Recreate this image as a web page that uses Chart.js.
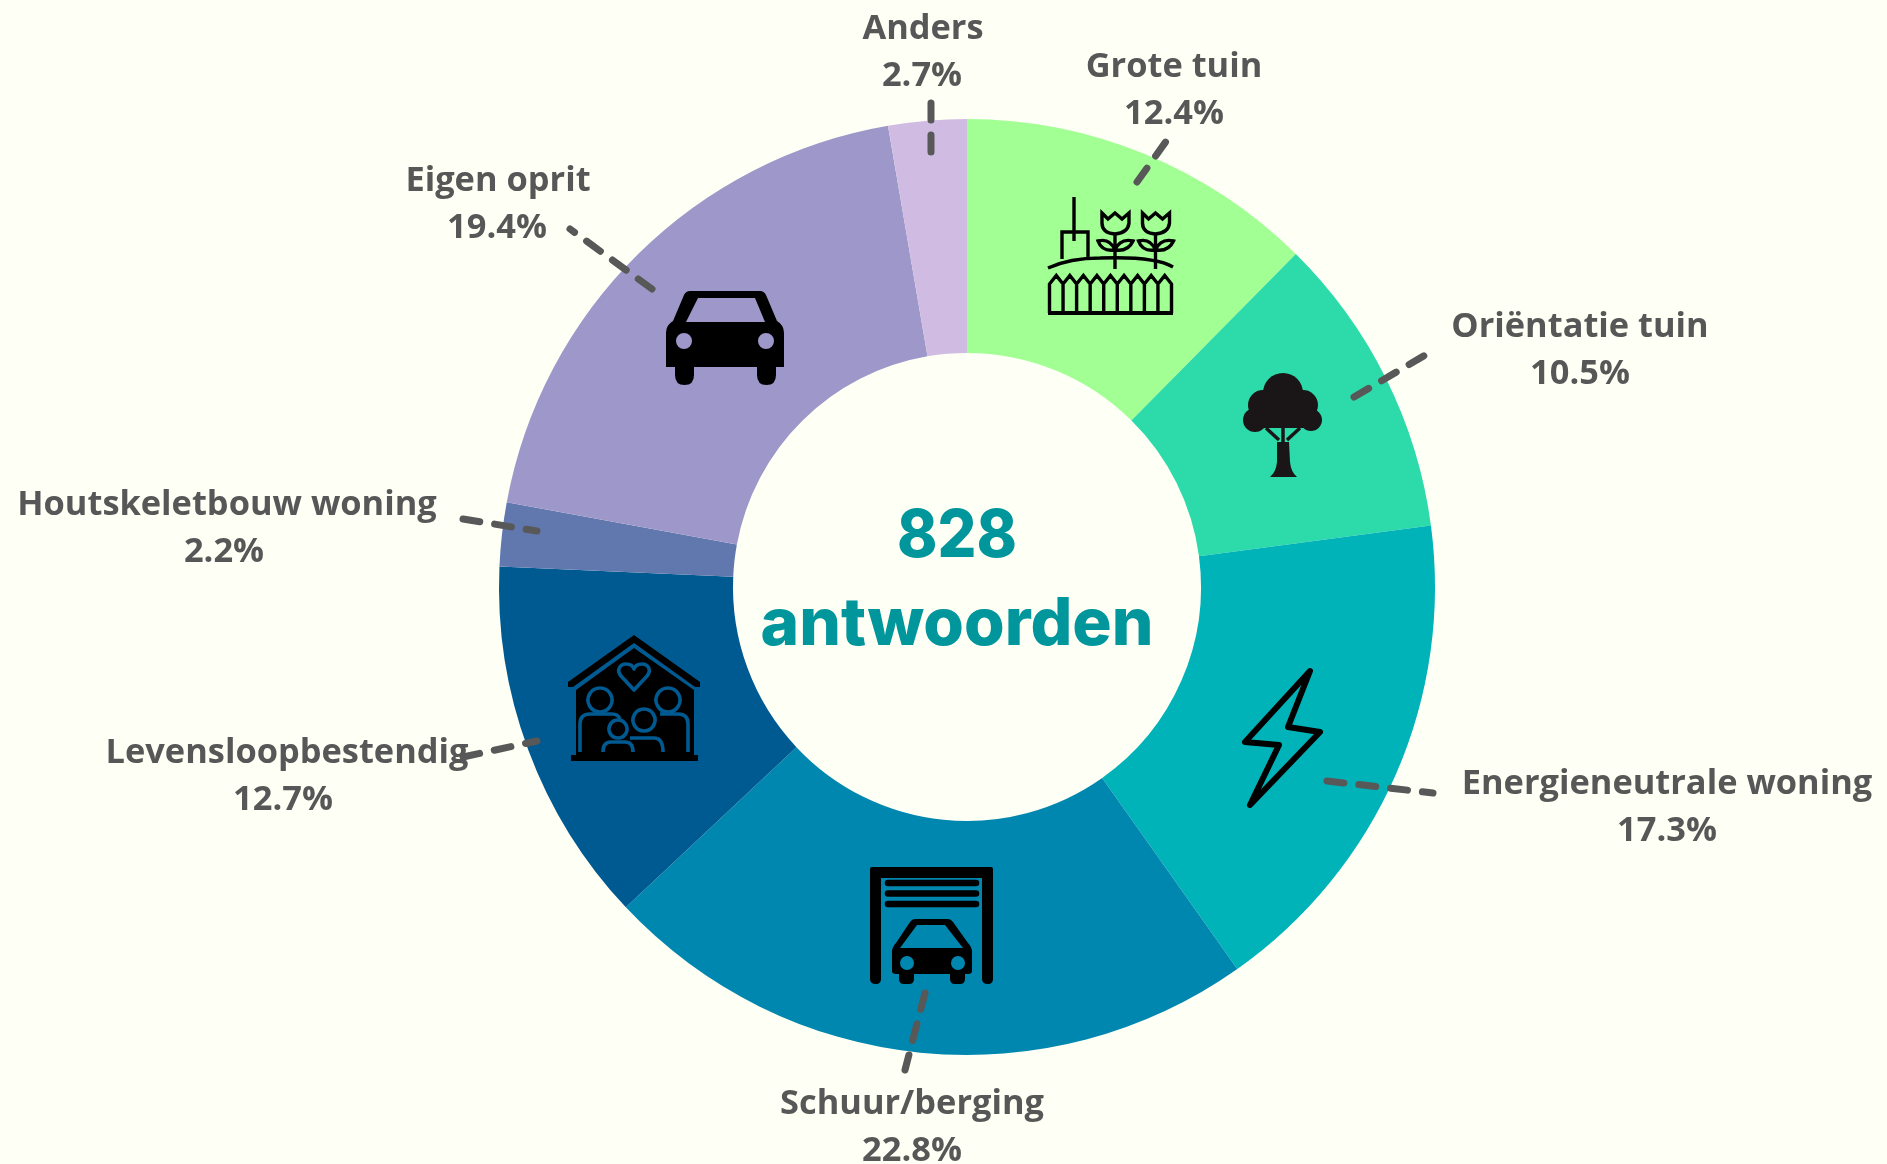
<!DOCTYPE html>
<html lang="nl">
<head>
<meta charset="utf-8">
<title>828 antwoorden</title>
<style>
html,body{margin:0;padding:0;background:#FEFFF5;overflow:hidden}
#wrap{position:absolute;left:0;top:0;width:1887px;height:1164px}
</style>
<script src="https://cdn.jsdelivr.net/npm/chart.js@4/dist/chart.umd.min.js"></script>
</head>
<body>
<div id="wrap"><canvas id="c" width="1887" height="1164"></canvas></div>
<script>
const categories = ["Grote tuin","Oriëntatie tuin","Energieneutrale woning","Schuur/berging","Levensloopbestendig","Houtskeletbouw woning","Eigen oprit","Anders"];
const shares = [12.4,10.5,17.3,22.8,12.7,2.2,19.4,2.7];
const sliceColors = ["#A1FF94","#2CDBA9","#00B3B9","#0087B0","#005A92","#6078AE","#9E98CA","#D0BBE2"];
const centerLines = ["828","antwoorden"];

// Annotation placement, kept apart from the data
const labelCentres = [[1174,67],[1580,327],[1667,784],[912,1104],[287,753],[227,505],[498,181],[923,29]];
const percentOffsetX = [0,0,0,0,-4,-3,-1,-1];
const leaders = [
  [[1137,182],[1167,140]],
  [[1354,397],[1427,354]],
  [[1327,781],[1433,793]],
  [[925,993],[905,1070]],
  [[463,757],[537,741]],
  [[463,519],[537,531]],
  [[652,289],[570,229]],
  [[931,152],[931,103]]
];

const BG = "#FEFFF5", TXT = "#575757", TEAL = "#00969C";

function drawCar(ctx){
  const p = new Path2D("M690,291 L760,291 Q764,291 766,295 L777,321 Q784,325 784,333 L784,367 L776,367 L776,375 Q776,385 766.5,385 Q757,385 757,375 L757,367 L694,367 L694,375 Q694,385 684.5,385 Q675,385 675,375 L675,367 L666,367 L666,333 Q666,325 673,321 L684,295 Q686,291 690,291 Z "+
    "M698,298 L755,298 L765,322 L686,322 Z "+
    "M676,341 a8,8 0 1,0 16,0 a8,8 0 1,0 -16,0 Z M758,341 a8,8 0 1,0 16,0 a8,8 0 1,0 -16,0 Z");
  ctx.fillStyle="#000"; ctx.fill(p,"evenodd");
}
function drawGarage(ctx){
  ctx.fillStyle="#000";
  const f = new Path2D("M872,867 L991,867 Q993,867 993,869 L993,979 Q993,984 988,984 Q982,984 982,979 L982,878 L881,878 L881,979 Q881,984 876,984 Q870,984 870,979 L870,869 Q870,867 872,867 Z");
  ctx.fill(f);
  ctx.strokeStyle="#000"; ctx.lineWidth=6.5; ctx.lineCap="round";
  [883,893.5,904].forEach(y=>{ctx.beginPath();ctx.moveTo(888,y);ctx.lineTo(976,y);ctx.stroke();});
  const c = new Path2D("M915,919 L948,919 Q951,919 953,922 L968,943 Q972,947 972,952 L972,971 Q972,974 968,974 L965,974 L965,979 Q965,984 960,984 L955,984 Q950,984 950,979 L950,974 L914,974 L914,979 Q914,984 909,984 L904,984 Q899,984 899,979 L899,974 L896,974 Q892,974 892,971 L892,952 Q892,947 896,943 L910,922 Q912,919 915,919 Z "+
    "M917,925 L945,925 L963,948 L900,948 Z "+
    "M900,963 a7,7 0 1,0 14,0 a7,7 0 1,0 -14,0 Z M951,963 a7,7 0 1,0 14,0 a7,7 0 1,0 -14,0 Z");
  ctx.fill(c,"evenodd");
}
function drawHouse(ctx){
  const band="#005A92";
  ctx.fillStyle="#000";
  ctx.fill(new Path2D("M634,635 L700,682 L700,687 L695,687 L634,643 L573,687 L568,687 L568,682 Z"));
  ctx.fill(new Path2D("M634,648 L694,690 L694,752 L576,752 L576,690 Z"));
  ctx.fill(new Path2D("M571,755 L698,755 L698,761 L571,761 Z"));
  ctx.strokeStyle=band; ctx.lineWidth=3.6; ctx.lineJoin="round"; ctx.lineCap="butt";
  ctx.stroke(new Path2D("M634,690 L621,676 C616,670 620,664 626,664 C630,664 633,666 634,669 C635,666 638,664 642,664 C648,664 652,670 647,676 Z"));
  ctx.stroke(new Path2D("M600,688 a12,12 0 1,0 0.01,0 Z"));
  ctx.stroke(new Path2D("M668,688 a12,12 0 1,0 0.01,0 Z"));
  ctx.stroke(new Path2D("M580,752 L580,724 Q580,714 590,714 L612,714 Q618,714 620,719"));
  ctx.stroke(new Path2D("M688,752 L688,724 Q688,714 678,714 L660,714"));
  ctx.stroke(new Path2D("M618,720 a9,9 0 1,0 0.01,0 Z"));
  ctx.stroke(new Path2D("M644,709 a11,11 0 1,0 0.01,0 Z"));
  ctx.stroke(new Path2D("M603,752 Q603,742 611,742 L625,742 Q633,742 633,752"));
  ctx.stroke(new Path2D("M630,738 L654,738 Q663,738 663,752"));
  ctx.fillStyle="#000";
  ctx.fill(new Path2D("M576,752 L694,752 L694,755 L576,755 Z"));
}
function drawTree(ctx){
  ctx.fillStyle="#1A1618";
  const crown=[[1283,393,20],[1263,405,15],[1303,405,15],[1255,420,12],[1311,420,11]];
  crown.forEach(c=>{ctx.beginPath();ctx.arc(c[0],c[1],c[2],0,Math.PI*2);ctx.fill();});
  ctx.fillRect(1255,398,56,30);
  ctx.fill(new Path2D("M1277,442 L1289,442 L1290,462 Q1291,472 1297,477 L1270,477 Q1276,472 1277,462 Z"));
  ctx.strokeStyle="#1A1618"; ctx.lineWidth=3.5; ctx.lineCap="butt";
  ctx.stroke(new Path2D("M1266,428 L1279,440 M1300,428 L1287,440 M1283,426 L1283,444"));
}
function drawBolt(ctx){
  ctx.strokeStyle="#000"; ctx.lineWidth=6; ctx.lineJoin="round";
  ctx.stroke(new Path2D("M1310,671 L1245,742 L1279,745 L1250,805 L1320,732 L1288,727 Z"));
}
function tulip(ctx,dx){
  ctx.save(); ctx.translate(dx,0);
  ctx.stroke(new Path2D("M1102,213 L1108,219 L1115,213 L1122,219 L1129,213 L1129,223 Q1128,233 1115,234 Q1102,233 1102,223 Z"));
  ctx.stroke(new Path2D("M1115,234 L1115,269"));
  ctx.stroke(new Path2D("M1115,250 Q1110,238 1098,241 Q1102,252 1115,250 Q1120,238 1133,241 Q1128,252 1115,250"));
  ctx.restore();
}
function drawGarden(ctx){
  ctx.strokeStyle="#000"; ctx.lineWidth=3.4; ctx.lineJoin="miter"; ctx.lineCap="butt";
  ctx.stroke(new Path2D("M1074,197 L1074,241"));
  ctx.stroke(new Path2D("M1062,259 L1062,232 L1088,232 L1088,259"));
  ctx.stroke(new Path2D("M1048,268 Q1070,258 1100,258 Q1155,256 1173,267"));
  tulip(ctx,0); tulip(ctx,40.5);
  let d="M1049.5,313 L1049.5,284";
  const n=9, w=(1171.5-1049.5)/n;
  for(let i=0;i<n;i++){
    const x=1049.5+i*w;
    d+=` L${x+w/2},275.5 L${x+w},284 L${x+w},313 M${x+w},284`;
  }
  ctx.stroke(new Path2D(d));
  ctx.lineWidth=3.8;
  ctx.stroke(new Path2D("M1048,313 L1173,313"));
}

const overlayPlugin = {
  id:"overlay",
  afterDatasetsDraw(chart){
    const ctx=chart.ctx;
    ctx.save();
    drawGarden(ctx); drawTree(ctx); drawBolt(ctx); drawGarage(ctx); drawHouse(ctx); drawCar(ctx);
    // leaders
    ctx.strokeStyle="#585858"; ctx.lineWidth=7; ctx.lineCap="round"; ctx.setLineDash([17,15]);
    leaders.forEach(l=>{ctx.beginPath();ctx.moveTo(l[0][0],l[0][1]);ctx.lineTo(l[1][0],l[1][1]);ctx.stroke();});
    ctx.setLineDash([]);
    // labels
    ctx.fillStyle=TXT; ctx.textAlign="center"; ctx.textBaseline="middle";
    ctx.font='700 34.4px "Open Sans"';
    categories.forEach((name,i)=>{
      const p=labelCentres[i];
      ctx.fillText(name,p[0],p[1]);
      ctx.fillText(shares[i].toFixed(1)+"%",p[0]+percentOffsetX[i],p[1]+47.5);
    });
    // centre text
    ctx.fillStyle=TEAL; ctx.textBaseline="alphabetic";
    ctx.font='800 66px "Inter"';
    ctx.save();
    ctx.translate(957,557); ctx.scale(120/ctx.measureText(centerLines[0]).width,1);
    ctx.fillText(centerLines[0],0,0);
    ctx.restore();
    const targetW=393, w=ctx.measureText(centerLines[1]).width;
    ctx.translate(957,645); ctx.scale(targetW/w,1);
    ctx.fillText(centerLines[1],0,0);
    ctx.restore();
  }
};

new Chart(document.getElementById("c"),{
  type:"doughnut",
  data:{labels:categories,datasets:[{data:shares,backgroundColor:sliceColors,borderWidth:0,hoverOffset:0}]},
  options:{
    responsive:false,animation:false,cutout:"50%",
    layout:{padding:{left:499,right:452,top:119,bottom:109}},
    plugins:{legend:{display:false},tooltip:{enabled:false},title:{display:false}}
  },
  plugins:[overlayPlugin]
});
</script>
</body>
</html>
